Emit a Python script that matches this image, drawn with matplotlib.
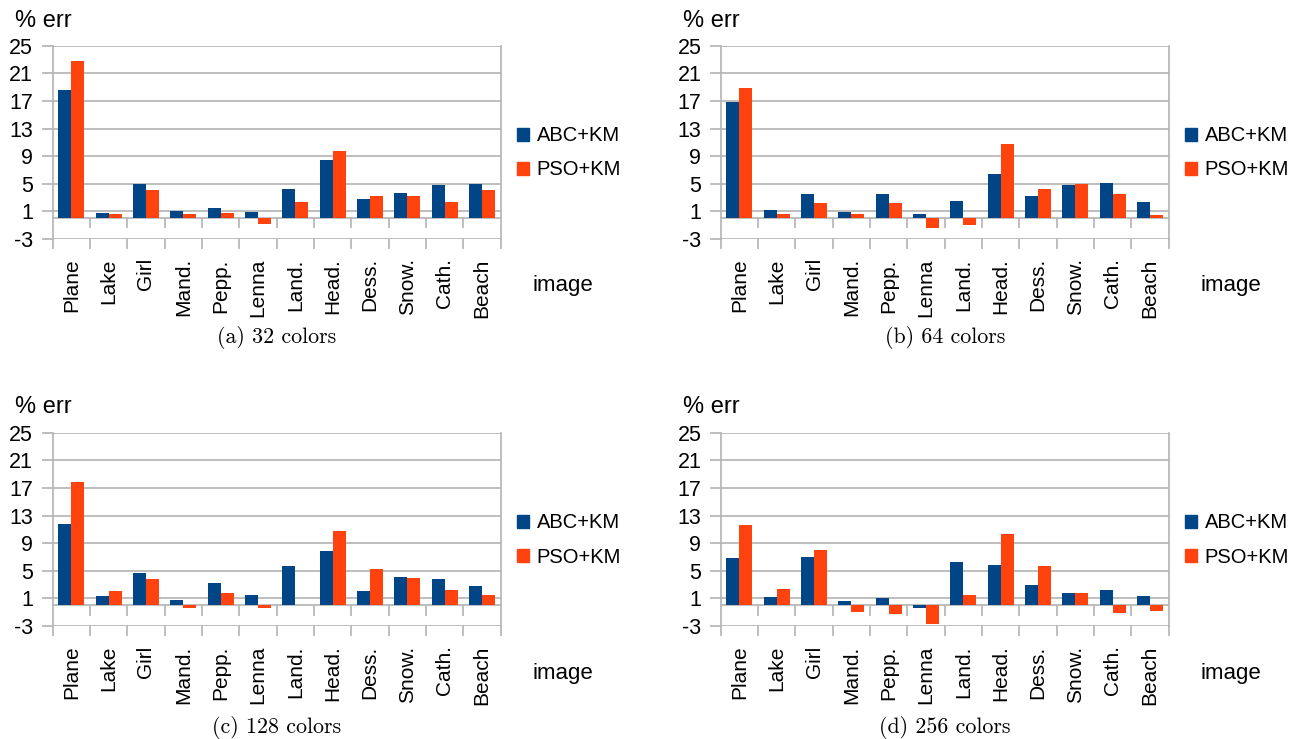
import numpy as np
import matplotlib
matplotlib.use("Agg")
import matplotlib.pyplot as plt
from matplotlib.patches import Patch

plt.rcParams['font.family'] = ['Liberation Sans', 'DejaVu Sans']
plt.rcParams['axes.unicode_minus'] = False

images = ["Plane", "Lake", "Girl", "Mand.", "Pepp.", "Lenna",
          "Land.", "Head.", "Dess.", "Snow.", "Cath.", "Beach"]
yticks = [-3, 1, 5, 9, 13, 17, 21, 25]

# % error per image
abc_32 = [18.6, 0.73, 4.99, 1.02, 1.45, 0.87, 4.2, 8.43, 2.76, 3.63, 4.8, 4.94]
pso_32 = [22.8, 0.58, 4.07, 0.58, 0.73, -0.87, 2.33, 9.74, 3.2, 3.2, 2.33, 4.07]
abc_64 = [16.86, 1.16, 3.49, 0.87, 3.49, 0.58, 2.47, 6.4, 3.2, 4.8, 5.09, 2.33]
pso_64 = [18.9, 0.58, 2.18, 0.58, 2.18, -1.45, -1.02, 10.76, 4.2, 4.94, 3.49, 0.44]
abc_128 = [11.78, 1.35, 4.68, 0.77, 3.23, 1.49, 5.69, 7.87, 2.07, 4.1, 3.81, 2.8]
pso_128 = [17.86, 2.07, 3.81, -0.39, 1.78, -0.39, 0.1, 10.76, 5.26, 3.95, 2.22, 1.49]
abc_256 = [6.85, 1.2, 7.0, 0.62, 1.06, -0.39, 6.27, 5.84, 2.94, 1.78, 2.22, 1.35]
pso_256 = [11.63, 2.36, 8.01, -0.97, -1.26, -2.71, 1.49, 10.33, 5.69, 1.78, -1.11, -0.82]

captions = ["(a) 32 colors", "(b) 64 colors", "(c) 128 colors", "(d) 256 colors"]

BLUE = "#004586"
ORANGE = "#ff420e"
GRID = "#b3b3b3"

fig = plt.figure(figsize=(13, 7.39), dpi=100)

# axes rectangles [left, bottom, width, height] in figure fraction
rects = [[0.0405, 0.677, 0.3446, 0.2608],
         [0.5544, 0.677, 0.3446, 0.2608],
         [0.0405, 0.1529, 0.3446, 0.2616],
         [0.5544, 0.1529, 0.3446, 0.2616]]
data = [(abc_32, pso_32), (abc_64, pso_64), (abc_128, pso_128), (abc_256, pso_256)]

x = np.arange(len(images))
w = 0.35
for i, (rect, (abc, pso)) in enumerate(zip(rects, data)):
    ax = fig.add_axes(rect)
    ax.bar(x - w / 2, abc, w, color=BLUE, label="ABC+KM", zorder=3)
    ax.bar(x + w / 2, pso, w, color=ORANGE, label="PSO+KM", zorder=3)
    ax.set_xlim(-0.5, len(images) - 0.5)
    ax.set_ylim(-3, 25)
    ax.set_yticks(yticks)
    ax.yaxis.grid(True, color=GRID, linewidth=1.2, zorder=0)
    ax.tick_params(axis='y', length=8, width=1.2, color=GRID, pad=6, labelsize=15.5)

    # category labels at centres, boundary ticks as minor ticks
    ax.set_xticks(x)
    ax.set_xticklabels(images, rotation=90, fontsize=15)
    ax.tick_params(axis='x', which='major', length=0, pad=14)
    ax.set_xticks(np.arange(-0.5, len(images)), minor=True)
    ax.tick_params(axis='x', which='minor', length=7.5, width=1.2, color=GRID)

    for s in ["top", "bottom"]:
        ax.spines[s].set_visible(False)
    for s in ["left", "right"]:
        ax.spines[s].set_color(GRID)
        ax.spines[s].set_linewidth(1.2)

    # zero axis with small ticks below it
    ax.axhline(0, color=GRID, linewidth=1.2, zorder=2)
    ax.vlines(np.arange(0.5, len(images) - 1), -1.5, 0, color=GRID, linewidth=1.2, zorder=2)

    ax.text(-0.085, 1.131, "% err", transform=ax.transAxes, fontsize=17, ha='left', va='center')
    ax.text(1.139, -0.244, "image", transform=ax.transAxes, fontsize=16, ha='center', va='center')

    handles = [Patch(color=BLUE, label="ABC+KM"), Patch(color=ORANGE, label="PSO+KM")]
    ax.legend(handles=handles, loc='center left', bbox_to_anchor=(0.995, 0.445),
              frameon=False, fontsize=14.5, handlelength=0.6, handleheight=0.6,
              handletextpad=0.4, labelspacing=0.75)

    ax.text(0.5, -0.515 if i < 2 else -0.523, captions[i], transform=ax.transAxes,
            fontsize=15.8, family='cmr10', ha='center', va='center')

fig.savefig("out.png", dpi=100)
